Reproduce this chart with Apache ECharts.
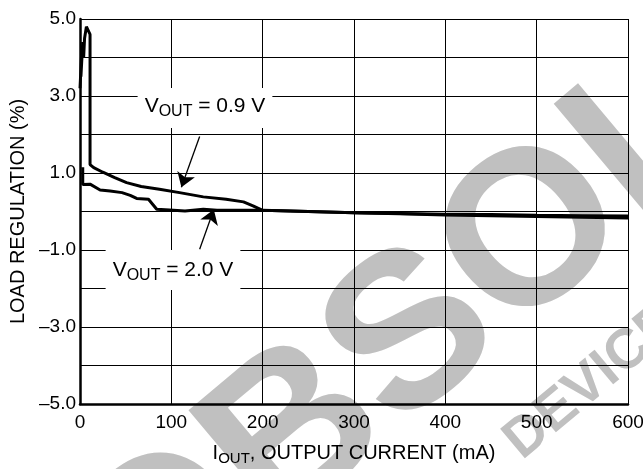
<!DOCTYPE html>
<html>
<head>
<meta charset="utf-8">
<script src="https://cdn.jsdelivr.net/npm/echarts@6/dist/echarts.min.js"></script>
<style>
  html, body { margin: 0; padding: 0; background: #fff; }
  #main { width: 643px; height: 469px; }
</style>
</head>
<body>
<div id="main"></div>
<script>
// load regulation vs output current
var xTicks = [0, 100, 200, 300, 400, 500, 600];
var yLabels = [5, 3, 1, -1, -3, -5];

var v09Current = [0, 2, 1, 3, 4, 5, 7, 9, 11, 11, 15, 25, 38, 51, 67, 87, 109, 135, 160, 179, 190, 200, 250, 300, 350, 400, 450, 500, 550, 600];
var v09Reg = [3.2, 4.2, 3.5, 4.4, 4.0, 4.5, 4.8, 4.85, 4.6, 1.22, 1.14, 1.02, 0.88, 0.75, 0.65, 0.58, 0.49, 0.38, 0.32, 0.25, 0.14, 0.03, 0.0, -0.03, -0.06, -0.09, -0.11, -0.13, -0.15, -0.17];

var v20Current = [3, 3, 4, 11, 22, 33, 46, 55, 62, 75, 84, 98, 115, 135, 150, 175, 200, 250, 300, 350, 400, 450, 500, 550, 600];
var v20Reg = [1.15, 0.7, 0.75, 0.71, 0.56, 0.53, 0.49, 0.42, 0.34, 0.32, 0.06, 0.04, 0.01, 0.06, 0.03, 0.03, 0.03, 0.0, -0.03, -0.05, -0.07, -0.08, -0.1, -0.11, -0.12];

function pairs(xs, ys) {
  var out = [];
  for (var i = 0; i < xs.length; i++) out.push([xs[i], ys[i]]);
  return out;
}

var font = 'Liberation Sans, Arial, sans-serif';
var chart = echarts.init(document.getElementById('main'));

function arrowLine(from, to) {
  return {
    silent: true, animation: false,
    symbol: ['none', 'arrow'],
    symbolSize: 14,
    label: { show: false },
    lineStyle: { color: '#000', width: 1.3, type: 'solid' },
    data: [[{ coord: from }, { coord: to }]]
  };
}

var option = {
  backgroundColor: '#fff',
  animation: false,
  grid: { left: 80, right: 15, top: 19, bottom: 65, containLabel: false, outerBoundsMode: 'none' },
  xAxis: {
    type: 'value',
    min: 0, max: 600, interval: 100,
    axisLine: { show: true, onZero: false, lineStyle: { color: '#000', width: 2.5 } },
    axisTick: { show: false },
    splitLine: { show: true, lineStyle: { color: '#000', width: 1 } },
    axisLabel: {
      color: '#000', fontSize: 19, fontFamily: font, margin: 9,
      formatter: function (v) { return xTicks.indexOf(v) >= 0 ? String(v) : ''; }
    },
    name: '{m|I}{s|OUT}{m|, OUTPUT CURRENT (mA)}',
    nameLocation: 'middle',
    nameGap: 36,
    nameTextStyle: {
      rich: {
        m: { fontSize: 20, fontFamily: font, color: '#000' },
        s: { fontSize: 15, fontFamily: font, color: '#000', padding: [11, 0, 0, 0] }
      }
    }
  },
  yAxis: {
    type: 'value',
    min: -5, max: 5, interval: 1,
    axisLine: { show: true, onZero: false, lineStyle: { color: '#000', width: 2.5 } },
    axisTick: { show: false },
    splitLine: { show: true, lineStyle: { color: '#000', width: 1 } },
    axisLabel: {
      color: '#000', fontSize: 19, fontFamily: font, margin: 4,
      formatter: function (v) {
        if (yLabels.indexOf(v) < 0) return '';
        return v < 0 ? '\u2013' + Math.abs(v).toFixed(1) : v.toFixed(1);
      }
    },
    name: 'LOAD REGULATION (%)',
    nameLocation: 'middle',
    nameGap: 50,
    nameTextStyle: { fontSize: 20, fontFamily: font, color: '#000' }
  },
  graphic: [
    {
      type: 'text', z: -10, silent: true,
      x: 568, y: 210, rotation: 40 * Math.PI / 180,
      style: { text: 'OBSOLETE', fontSize: 220, fontWeight: 'bold', fontFamily: font, fill: '#c0c0c0', align: 'center', verticalAlign: 'middle' }
    },
    {
      type: 'text', z: -10, silent: true,
      x: 592, y: 382, rotation: 40 * Math.PI / 180,
      style: { text: 'DEVICE', fontSize: 56, fontWeight: 'bold', fontFamily: font, fill: '#c0c0c0', align: 'center', verticalAlign: 'middle' }
    },
    {
      type: 'text', z: 50, silent: true,
      x: 205, y: 108,
      style: {
        text: '{m|V}{s|OUT}{m| = 0.9 V}', align: 'center', verticalAlign: 'middle',
        backgroundColor: '#fff', padding: [4, 7, 8, 7],
        rich: {
          m: { fontSize: 21, fontFamily: font, fill: '#000' },
          s: { fontSize: 16, fontFamily: font, fill: '#000', padding: [12, 0, 0, 0] }
        }
      }
    },
    {
      type: 'text', z: 50, silent: true,
      x: 173, y: 270,
      style: {
        text: '{m|V}{s|OUT}{m| = 2.0 V}', align: 'center', verticalAlign: 'middle',
        backgroundColor: '#fff', padding: [6, 7, 6, 7],
        rich: {
          m: { fontSize: 21, fontFamily: font, fill: '#000' },
          s: { fontSize: 16, fontFamily: font, fill: '#000', padding: [12, 0, 0, 0] }
        }
      }
    }
  ],
  series: [
    {
      name: 'VOUT = 0.9 V',
      type: 'line',
      data: pairs(v09Current, v09Reg),
      symbol: 'none',
      lineStyle: { color: '#000', width: 3 },
      z: 5,
      markLine: arrowLine([131, 1.95], [111, 0.63])
    },
    {
      name: 'VOUT = 2.0 V',
      type: 'line',
      data: pairs(v20Current, v20Reg),
      symbol: 'none',
      lineStyle: { color: '#000', width: 3 },
      z: 5,
      markLine: arrowLine([131, -0.98], [146.5, 0.05])
    }
  ]
};

chart.setOption(option);
</script>
</body>
</html>
